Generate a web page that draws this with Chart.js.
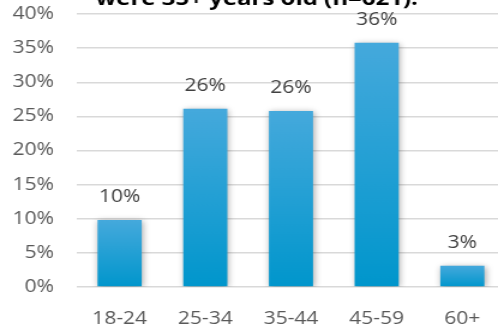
<!DOCTYPE html>
<html><head><meta charset="utf-8">
<script src="https://cdn.jsdelivr.net/npm/chart.js@4"></script>
<style>
html,body{margin:0;padding:0;overflow:hidden;background:#fff;width:498px;height:328px}
#wrap{position:absolute;left:0;top:0;width:422px;height:328px;transform:scaleX(1.2);transform-origin:0 0}
canvas{display:block}
</style></head><body>
<div id="wrap"><canvas id="c" width="422" height="328"></canvas></div>
<script>
const categories = ['18-24', '25-34', '35-44', '45-59', '60+'];
const shares = [9.8, 26.1, 25.8, 35.8, 3.1];
const shareLabels = ['10%', '26%', '26%', '36%', '3%'];
const yTicks = [0, 5, 10, 15, 20, 25, 30, 35, 40];
const titleText = 'were 35+ years old (n=621).';

const FONT = 'Open Sans';
const FSIZE = 17.5;

const decor = {
  id: 'decor',
  beforeDatasetsDraw(chart) {
    const ctx = chart.ctx;
    ctx.save();
    ctx.shadowColor = 'rgba(0,0,0,0.35)';
    ctx.shadowBlur = 6;
    ctx.shadowOffsetX = 1;
    ctx.shadowOffsetY = 1;
  },
  afterDatasetsDraw(chart) {
    const ctx = chart.ctx;
    ctx.restore();
    const meta = chart.getDatasetMeta(0);
    ctx.save();
    ctx.font = FSIZE + 'px "' + FONT + '"';
    ctx.fillStyle = '#404040';
    ctx.textAlign = 'center';
    ctx.textBaseline = 'middle';
    meta.data.forEach((bar, i) => {
      ctx.fillText(shareLabels[i], bar.x, bar.y - 23);
    });
    ctx.restore();
  },
  afterDraw(chart) {
    const ctx = chart.ctx;
    ctx.save();
    ctx.font = 'bold 20px "' + FONT + '"';
    ctx.fillStyle = '#000';
    ctx.textAlign = 'center';
    ctx.textBaseline = 'alphabetic';
    ctx.fillText(titleText, chart.width / 2 + 3, 5);
    ctx.restore();
  }
};

new Chart(document.getElementById('c'), {
  type: 'bar',
  data: {
    labels: categories,
    datasets: [{
      data: shares,
      backgroundColor: (c) => {
        const chart = c.chart;
        if (!chart.chartArea || c.type !== 'data' || !chart.scales.y) return '#1a9fd4';
        const ys = chart.scales.y;
        const top = ys.getPixelForValue(shares[c.dataIndex]);
        const base = ys.getPixelForValue(0);
        const g = chart.ctx.createLinearGradient(0, top, 0, base);
        g.addColorStop(0, '#45a9dc');
        g.addColorStop(1, '#0096cc');
        return g;
      },
      borderWidth: 0,
      barPercentage: 0.515,
      categoryPercentage: 1
    }]
  },
  options: {
    responsive: false,
    animation: false,
    devicePixelRatio: 1,
    layout: { padding: { top: 14, right: 1, left: 0, bottom: 0 } },
    plugins: { legend: { display: false }, tooltip: { enabled: false }, title: { display: false } },
    scales: {
      y: {
        min: 0, max: 40,
        afterBuildTicks: (s) => { s.ticks = yTicks.map(v => ({ value: v })); },
        afterFit: (s) => { s.width = 64; s.paddingTop = 0; s.paddingBottom = 0; },
        ticks: {
          padding: 19,
          color: '#595959',
          font: { family: FONT, size: FSIZE },
          callback: (v) => v + '%'
        },
        grid: { color: '#d9d9d9', lineWidth: 1.5, drawTicks: false },
        border: { display: false }
      },
      x: {
        afterFit: (s) => { s.height = 41; s.paddingLeft = 0; s.paddingRight = 0; },
        ticks: {
          padding: 22,
          color: '#595959',
          font: { family: FONT, size: FSIZE }
        },
        grid: { display: false, drawTicks: false },
        border: { display: false }
      }
    }
  },
  plugins: [decor]
});
</script>
</body></html>
